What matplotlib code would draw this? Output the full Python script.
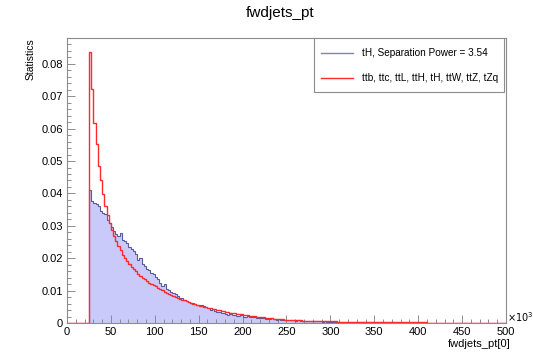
import matplotlib
matplotlib.use("Agg")
import matplotlib.pyplot as plt
import numpy as np
from matplotlib.ticker import MultipleLocator

plt.rcParams['font.family'] = ['Liberation Sans', 'DejaVu Sans']

# bin edges: 200 bins of 2.5 from 0 to 500
edges = np.linspace(0, 500, 201)

# first 10 bins (0 - 25) are empty, values below in units of 1e-4
empty = [0] * 10

# ttb, ttc, ttL, ttH, tH, ttW, ttZ, tZq  (bins from 25 to 500)
bkg = [
    837, 724, 619, 552, 486, 440, 398, 362, 333, 308,
    286, 268, 252, 237, 224, 211, 200, 190, 181, 173,
    166, 159, 152, 146, 140, 135, 130, 125, 121, 117,
    113, 109, 105, 101, 97, 94, 90, 87, 84, 81,
    78, 75, 72, 70, 67, 65, 62, 60, 58, 56,
    54, 52, 50, 48, 46, 45, 43, 42, 40, 39,
    37, 36, 34, 33, 32, 31, 30, 29, 28, 27,
    26, 25, 24, 23, 22, 21, 20, 19, 18, 17,
    16, 15, 14, 14, 13, 12, 12, 11, 11, 10,
    10, 10, 9, 9, 8, 8, 8, 7, 7, 7,
    7, 6, 6, 6, 6, 6, 5, 5, 5, 5,
    5, 5, 5, 4, 4, 4, 4, 4, 4, 4,
    3, 3, 3, 3, 3, 3, 3, 3, 3, 3,
    3, 3, 3, 2, 2, 2, 2, 2, 2, 2,
    2, 2, 2, 2, 2, 2, 2, 2, 2, 2,
    2, 2, 2, 2, 1, 1, 1, 1, 1, 1,
    1, 1, 1, 1, 1, 1, 1, 1, 1, 1,
    1, 1, 1, 1, 1, 1, 1, 1, 1, 1,
    1, 1, 1, 1, 1, 1, 1, 1, 1, 1,
]

# tH signal (bins from 25 to 500)
sig = [
    410, 378, 372, 368, 360, 345, 340, 336, 318, 310,
    297, 285, 276, 268, 278, 256, 252, 246, 236, 228,
    221, 212, 196, 200, 182, 176, 168, 163, 155, 150,
    142, 135, 124, 115, 120, 104, 101, 97, 93, 90,
    83, 78, 76, 70, 67, 66, 62, 61, 58, 57,
    56, 55, 52, 50, 45, 41, 42, 38, 35, 33,
    30, 32, 28, 26, 27, 25, 25, 23, 22, 24,
    20, 19, 21, 18, 17, 18, 16, 15, 14, 15,
    13, 12, 12, 14, 11, 10, 11, 10, 9, 9,
    10, 9, 8, 8, 7, 8, 7, 6, 7, 6,
    6, 5, 6, 5, 5, 5, 4, 5, 4, 4,
    4, 4, 3, 4, 3, 3, 3, 3, 4, 3,
    3, 2, 3, 3, 2, 2, 3, 2, 2, 2,
    2, 2, 2, 2, 2, 2, 1, 2, 2, 1,
    2, 1, 1, 2, 1, 1, 1, 1, 2, 1,
    1, 1, 1, 1, 1, 1, 1, 1, 1, 1,
    1, 1, 1, 1, 1, 1, 1, 1, 1, 1,
    1, 1, 1, 1, 0, 1, 1, 1, 0, 1,
    1, 1, 1, 1, 0, 1, 1, 0, 1, 1,
]

sig_vals = np.array(empty + sig) * 1e-4
bkg_vals = np.array(empty + bkg) * 1e-4

fig = plt.figure(figsize=(5.33, 3.52), dpi=100)
ax = fig.add_axes([0.1257, 0.0824, 0.8236, 0.8097])

ax.stairs(sig_vals, edges, fill=True, color='#cacafa', zorder=1)
ax.stairs(sig_vals, edges, color='#5a5a9e', lw=0.8, zorder=2)
ax.stairs(bkg_vals, edges, color='#ff2a2a', lw=1.0, zorder=3)

ax.set_xlim(0, 500)
ax.set_ylim(0, 0.088)

frame = '#8c8c8c'
for s in ['left', 'bottom', 'right', 'top']:
    ax.spines[s].set_color(frame)
    ax.spines[s].set_linewidth(0.8)

ax.xaxis.set_major_locator(MultipleLocator(50))
ax.xaxis.set_minor_locator(MultipleLocator(10))
ax.yaxis.set_major_locator(MultipleLocator(0.01))
ax.yaxis.set_minor_locator(MultipleLocator(0.002))
ax.tick_params(which='both', direction='in', color=frame, width=0.7, labelsize=8)
ax.tick_params(which='major', length=6)
ax.tick_params(which='minor', length=3)
ax.tick_params(axis='x', pad=3)
ax.tick_params(axis='y', pad=3)
ax.set_xticklabels([f"{int(t)}" for t in ax.get_xticks()])
yt = ax.get_yticks()
ax.set_yticklabels(["0" if t == 0 else f"{t:.2f}" for t in yt])

fig.text(0.525, 0.962, "fwdjets_pt", ha='center', va='center', fontsize=11)
fig.text(0.057, 0.89, "Statistics", rotation=90, ha='center', va='top', fontsize=7.5)
fig.text(0.958, 0.023, "fwdjets_pt[0]", ha='right', va='center', fontsize=8)
ax.text(1.002, 0.02, r"$\times10^{3}$", transform=ax.transAxes, fontsize=7,
        ha='left', va='center')

# legend box drawn by hand in axes coordinates
ax.add_patch(plt.Rectangle((0.5626, 0.8116), 0.4328, 0.1884, transform=ax.transAxes,
                           fill=True, facecolor='white', edgecolor=frame, lw=0.8, zorder=5))
ax.plot([0.5786, 0.6515], [0.948, 0.948], transform=ax.transAxes, color='#8080c0', lw=1.0, zorder=6)
ax.plot([0.5786, 0.6515], [0.8586, 0.8586], transform=ax.transAxes, color='#ff2a2a', lw=1.0, zorder=6)
ax.text(0.6713, 0.948, "tH, Separation Power = 3.54", transform=ax.transAxes,
        fontsize=7.2, va='center', zorder=6)
ax.text(0.6713, 0.8586, "ttb, ttc, ttL, ttH, tH, ttW, ttZ, tZq", transform=ax.transAxes,
        fontsize=7.2, va='center', zorder=6)

fig.savefig("out.png", dpi=100)
